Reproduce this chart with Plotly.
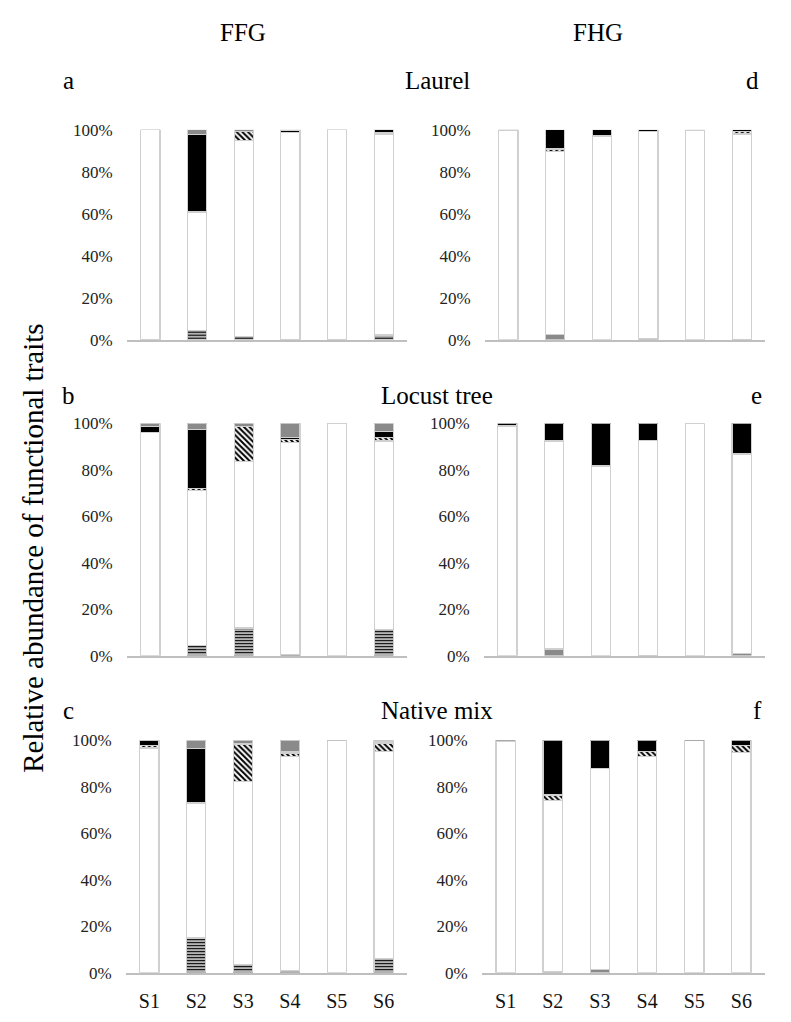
import plotly.graph_objects as go

W, H = 791, 1022
sites = ["S1", "S2", "S3", "S4", "S5", "S6"]
ytick_vals = [0, 20, 40, 60, 80, 100]
ytick_text = ["0%", "20%", "40%", "60%", "80%", "100%"]

# ---- FFG, Laurel (a) ----
laurel_ffg_striped = [0.3, 4.4, 1.5, 0.3, 0.2, 2.3]
laurel_ffg_white = [99.7, 56.4, 93.5, 98.2, 99.8, 95.7]
laurel_ffg_hatch = [0.0, 0.3, 4.0, 0.0, 0.0, 0.5]
laurel_ffg_black = [0.0, 36.7, 0.0, 1.0, 0.0, 1.5]
laurel_ffg_gray = [0.0, 2.2, 1.0, 0.5, 0.0, 0.0]

# ---- FHG, Laurel (d) ----
laurel_fhg_gray = [0.0, 2.5, 0.0, 0.6, 0.0, 0.3]
laurel_fhg_white = [99.5, 87.2, 97.0, 98.4, 99.8, 97.7]
laurel_fhg_hatch = [0.5, 1.1, 0.0, 0.0, 0.0, 1.2]
laurel_fhg_black = [0.0, 9.2, 3.0, 1.0, 0.2, 0.8]

# ---- FFG, Locust tree (b) ----
locust_ffg_striped = [0.0, 4.5, 11.9, 0.7, 0.0, 11.2]
locust_ffg_white = [95.9, 66.4, 71.7, 91.0, 100.0, 81.1]
locust_ffg_hatch = [0.0, 1.0, 15.0, 1.3, 0.0, 1.5]
locust_ffg_black = [2.8, 25.3, 0.0, 0.8, 0.0, 2.7]
locust_ffg_gray = [1.3, 2.8, 1.4, 6.2, 0.0, 3.5]

# ---- FHG, Locust tree (e) ----
locust_fhg_gray = [0.0, 2.9, 0.0, 0.2, 0.0, 0.8]
locust_fhg_white = [98.8, 89.4, 81.3, 92.5, 100.0, 85.9]
locust_fhg_hatch = [0.0, 0.4, 0.5, 0.0, 0.0, 0.4]
locust_fhg_black = [1.2, 7.3, 18.2, 7.3, 0.0, 12.9]

# ---- FFG, Native mix (c) ----
native_ffg_striped = [0.0, 14.9, 3.5, 1.1, 0.0, 6.0]
native_ffg_white = [96.6, 58.1, 78.8, 92.0, 99.8, 89.0]
native_ffg_hatch = [1.1, 0.0, 16.0, 1.4, 0.0, 3.4]
native_ffg_black = [2.0, 23.3, 0.0, 0.7, 0.0, 0.8]
native_ffg_gray = [0.3, 3.7, 1.7, 4.8, 0.2, 0.8]

# ---- FHG, Native mix (f) ----
native_fhg_gray = [0.0, 0.7, 1.3, 0.0, 0.0, 0.0]
native_fhg_white = [99.6, 73.3, 86.4, 93.1, 99.8, 94.7]
native_fhg_hatch = [0.0, 2.4, 0.0, 2.1, 0.0, 3.0]
native_fhg_black = [0.4, 23.6, 12.3, 4.8, 0.2, 2.3]

FONT = "Liberation Serif, Times New Roman, Times, serif"

styles = {
    "striped": dict(color="white", pattern=dict(shape="-", fgcolor="black", bgcolor="#c8c8c8", size=3, solidity=0.4, fgopacity=1)),
    "white": dict(color="white"),
    "hatch": dict(color="white", pattern=dict(shape="\\", fgcolor="black", bgcolor="white", size=4, solidity=0.5, fgopacity=1)),
    "black": dict(color="black"),
    "gray": dict(color="#8a8a8a"),
}

def px_x(x):
    return x / W

def px_y(y):
    return 1 - y / H

# (x0, x1, ytop, ybot, segments, show x labels)
panels = [
    (127, 407, 123, 337, [("striped", laurel_ffg_striped), ("white", laurel_ffg_white), ("hatch", laurel_ffg_hatch), ("black", laurel_ffg_black), ("gray", laurel_ffg_gray)], False),
    (485, 765, 123, 337, [("gray", laurel_fhg_gray), ("white", laurel_fhg_white), ("hatch", laurel_fhg_hatch), ("black", laurel_fhg_black)], False),
    (127, 407, 422, 659, [("striped", locust_ffg_striped), ("white", locust_ffg_white), ("hatch", locust_ffg_hatch), ("black", locust_ffg_black), ("gray", locust_ffg_gray)], False),
    (484, 765, 422, 659, [("gray", locust_fhg_gray), ("white", locust_fhg_white), ("hatch", locust_fhg_hatch), ("black", locust_fhg_black)], False),
    (126, 407, 745, 982, [("striped", native_ffg_striped), ("white", native_ffg_white), ("hatch", native_ffg_hatch), ("black", native_ffg_black), ("gray", native_ffg_gray)], True),
    (482, 765, 745, 982, [("gray", native_fhg_gray), ("white", native_fhg_white), ("hatch", native_fhg_hatch), ("black", native_fhg_black)], True),
]

fig = go.Figure()
layout = {}
for i, (x0, x1, yt, yb, segs, showx) in enumerate(panels, start=1):
    sfx = "" if i == 1 else str(i)
    for name, vals in segs:
        fig.add_trace(go.Bar(
            x=sites, y=vals, name=name, width=0.41,
            marker=dict(line=dict(color="#d0d0d0", width=1.2), **styles[name]),
            xaxis="x" + sfx, yaxis="y" + sfx, showlegend=False,
            hoverinfo="skip",
        ))
    layout["xaxis" + sfx] = dict(
        domain=[px_x(x0), px_x(x1)], anchor="y" + sfx,
        range=[-0.5, 5.5], showgrid=False, zeroline=False,
        showline=True, linecolor="#bfbfbf", linewidth=1.5,
        ticks="outside", ticklen=10, tickcolor="rgba(0,0,0,0)",
        showticklabels=showx,
        tickfont=dict(family=FONT, size=20, color="#111"),
        categoryorder="array", categoryarray=sites,
        fixedrange=True,
    )
    layout["yaxis" + sfx] = dict(
        domain=[px_y(yb), px_y(yt)], anchor="x" + sfx,
        range=[0, 100], showgrid=False, zeroline=False, showline=False,
        tickvals=ytick_vals, ticktext=ytick_text,
        ticks="outside", ticklen=10, tickcolor="rgba(0,0,0,0)",
        tickfont=dict(family=FONT, size=17, color="#222"),
        fixedrange=True,
    )

fig.update_layout(
    width=W, height=H, margin=dict(l=0, r=0, t=0, b=0),
    paper_bgcolor="white", plot_bgcolor="white",
    barmode="stack", font=dict(family=FONT), **layout,
)

def label(text, x, y, size=25, angle=0):
    fig.add_annotation(text=text, x=px_x(x), y=px_y(y), xref="paper", yref="paper",
                       showarrow=False, textangle=angle,
                       font=dict(family=FONT, size=size, color="black"),
                       xanchor="center", yanchor="middle")

label("FFG", 243, 24)
label("FHG", 598, 24)
label("a", 68, 73)
label("Laurel", 437, 73)
label("d", 752, 73)
label("b", 68, 394)
label("Locust tree", 437, 394)
label("e", 756, 394)
label("c", 68, 715)
label("Native mix", 437, 715)
label("f", 757, 715)
label("Relative abundance of functional traits", 33, 550, size=29, angle=-90)

fig.write_html("out.html")
